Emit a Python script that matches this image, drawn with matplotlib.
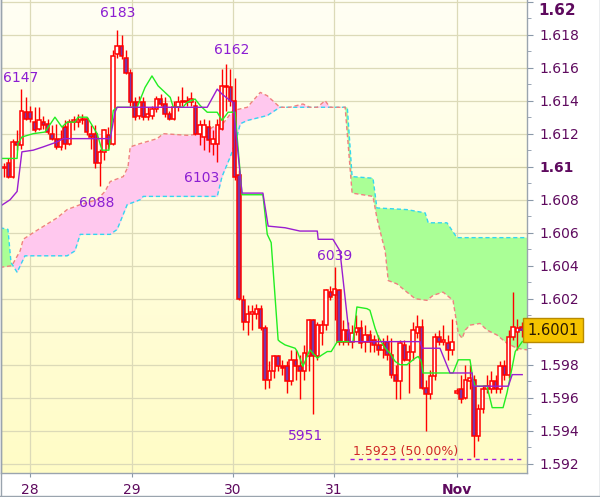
import numpy as np
import matplotlib
matplotlib.use('Agg')
import matplotlib.pyplot as plt
import matplotlib.transforms as mtransforms
from matplotlib.colors import LinearSegmentedColormap
from matplotlib.lines import Line2D

# ---------------- data (hourly candles, GBP-like quotes) ----------------
opens = [1.6099, 1.6102, 1.6094, 1.6115, 1.6113, 1.6133, 1.6133, 1.6127, 1.6123, 1.6127,
         1.6126, 1.6120, 1.6117, 1.6112, 1.6124, 1.6114, 1.6127, 1.6127, 1.6128, 1.6129,
         1.6120, 1.6120, 1.6102, 1.6109, 1.6119, 1.6114, 1.6168, 1.6173, 1.6166, 1.6157,
         1.6139, 1.6131, 1.6139, 1.6130, 1.6131, 1.6135, 1.6141, 1.6138, 1.6132, 1.6129,
         1.6136, 1.6139, 1.6139, 1.6139, 1.6137, 1.6120, 1.6118, 1.6124, 1.6114, 1.6114,
         1.6123, 1.6148, 1.6148, 1.6140, 1.6095, 1.6019, 1.6006, 1.6011, 1.6011, 1.6014,
         1.6002, 1.5971, 1.5976, 1.5985, 1.5979, 1.5979, 1.5970, 1.5983, 1.5979, 1.5976,
         1.5985, 1.6007, 1.5985, 1.5999, 1.6004, 1.6024, 1.6022, 1.6025, 1.5994, 1.6001,
         1.5994, 1.6000, 1.6002, 1.5994, 1.5998, 1.5995, 1.5992, 1.5989, 1.5994, 1.5986,
         1.5974, 1.5970, 1.5992, 1.5983, 1.5988, 1.5999, 1.6003, 1.5966, 1.5962, 1.5973,
         1.5997, 1.5994, 1.5993, 1.5989, 1.5963, 1.5965, 1.5960, 1.5970, 1.5971, 1.5937,
         1.5953, 1.5965, 1.5965, 1.5970, 1.5965, 1.5979, 1.5974, 1.5997, 1.6000, 1.6003]
highs = [1.6102, 1.6105, 1.6117, 1.6122, 1.6147, 1.6142, 1.6137, 1.6136, 1.6136, 1.6131,
         1.6129, 1.6125, 1.6126, 1.6122, 1.6128, 1.6129, 1.6131, 1.6132, 1.6132, 1.6130,
         1.6125, 1.6125, 1.6111, 1.6123, 1.6124, 1.6171, 1.6183, 1.6180, 1.6171, 1.6159,
         1.6142, 1.6143, 1.6142, 1.6136, 1.6137, 1.6143, 1.6144, 1.6142, 1.6134, 1.6140,
         1.6143, 1.6148, 1.6143, 1.6145, 1.6140, 1.6128, 1.6129, 1.6128, 1.6122, 1.6129,
         1.6159, 1.6162, 1.6159, 1.6154, 1.6098, 1.6022, 1.6016, 1.6016, 1.6017, 1.6016,
         1.6004, 1.5982, 1.5986, 1.5986, 1.5983, 1.5982, 1.5989, 1.5989, 1.5986, 1.5992,
         1.6008, 1.6008, 1.6006, 1.6007, 1.6026, 1.6028, 1.6039, 1.6026, 1.6007, 1.6006,
         1.6004, 1.6010, 1.6007, 1.6004, 1.6001, 1.5998, 1.5998, 1.5996, 1.5998, 1.5996,
         1.5980, 1.5995, 1.5995, 1.5992, 1.6006, 1.6010, 1.6008, 1.5971, 1.5977, 1.5999,
         1.6001, 1.6004, 1.5998, 1.6008, 1.5966, 1.5974, 1.5980, 1.5980, 1.5974, 1.5956,
         1.5968, 1.5974, 1.5976, 1.5974, 1.5982, 1.5983, 1.6001, 1.6024, 1.6008, 1.6006]
lows = [1.6094, 1.6093, 1.6093, 1.6110, 1.6111, 1.6128, 1.6127, 1.6121, 1.6122, 1.6123,
        1.6120, 1.6116, 1.6111, 1.6110, 1.6111, 1.6113, 1.6122, 1.6124, 1.6126, 1.6119,
        1.6111, 1.6099, 1.6088, 1.6104, 1.6111, 1.6113, 1.6166, 1.6165, 1.6156, 1.6137,
        1.6128, 1.6129, 1.6128, 1.6128, 1.6129, 1.6133, 1.6137, 1.6130, 1.6128, 1.6128,
        1.6134, 1.6137, 1.6137, 1.6137, 1.6119, 1.6113, 1.6110, 1.6109, 1.6107, 1.6103,
        1.6122, 1.6134, 1.6137, 1.6092, 1.6019, 1.6001, 1.5998, 1.6001, 1.6008, 1.6001,
        1.5965, 1.5966, 1.5972, 1.5976, 1.5974, 1.5963, 1.5968, 1.5971, 1.5959, 1.5971,
        1.5976, 1.5950, 1.5983, 1.5992, 1.6001, 1.6019, 1.6007, 1.5992, 1.5992, 1.5992,
        1.5990, 1.5998, 1.5990, 1.5988, 1.5988, 1.5988, 1.5986, 1.5984, 1.5983, 1.5972,
        1.5959, 1.5959, 1.5982, 1.5963, 1.5983, 1.5996, 1.5965, 1.5940, 1.5959, 1.5971,
        1.5992, 1.5992, 1.5983, 1.5986, 1.5962, 1.5957, 1.5959, 1.5965, 1.5924, 1.5934,
        1.5951, 1.5963, 1.5963, 1.5963, 1.5963, 1.5971, 1.5972, 1.5995, 1.5989, 1.5997]
closes = [1.6100, 1.6094, 1.6115, 1.6113, 1.6134, 1.6129, 1.6129, 1.6122, 1.6128, 1.6125,
          1.6121, 1.6117, 1.6112, 1.6117, 1.6114, 1.6127, 1.6128, 1.6128, 1.6129, 1.6121,
          1.6118, 1.6102, 1.6109, 1.6122, 1.6114, 1.6167, 1.6173, 1.6167, 1.6157, 1.6139,
          1.6130, 1.6139, 1.6130, 1.6132, 1.6135, 1.6141, 1.6138, 1.6132, 1.6129, 1.6136,
          1.6139, 1.6140, 1.6140, 1.6141, 1.6120, 1.6125, 1.6125, 1.6116, 1.6117, 1.6125,
          1.6149, 1.6149, 1.6140, 1.6094, 1.6020, 1.6006, 1.6011, 1.6012, 1.6014, 1.6002,
          1.5971, 1.5976, 1.5985, 1.5979, 1.5978, 1.5970, 1.5983, 1.5979, 1.5976, 1.5987,
          1.6007, 1.5985, 1.6004, 1.6004, 1.6025, 1.6021, 1.6026, 1.5994, 1.6001, 1.5994,
          1.5999, 1.6002, 1.5993, 1.5998, 1.5994, 1.5992, 1.5989, 1.5992, 1.5986, 1.5974,
          1.5970, 1.5993, 1.5983, 1.5988, 1.6001, 1.6003, 1.5966, 1.5962, 1.5973, 1.5997,
          1.5994, 1.5995, 1.5989, 1.5994, 1.5964, 1.5959, 1.5971, 1.5972, 1.5937, 1.5953,
          1.5965, 1.5967, 1.5970, 1.5965, 1.5979, 1.5974, 1.5997, 1.6003, 1.6002, 1.6001]

# Ichimoku lines (x in bar units)
tenkan_x = [-0.9, 3.0, 3.2, 4.1, 6.7, 9.4, 11.7, 13.3, 14.5, 16.3, 17.0, 19.1, 21.4, 22.5, 24.1,
            25.1, 26.0, 30.6, 32.4, 34.0, 35.4, 38.2, 38.9, 41.1, 42.1, 43.9, 45.1, 46.7, 49.0,
            50.1, 51.5, 53.1, 54.7, 59.5, 60.5, 61.4, 63.0, 63.4, 64.6, 66.9, 67.4, 68.7, 70.3,
            72.0, 73.1, 74.3, 75.2, 76.6, 80.2, 81.1, 83.4, 84.1, 85.3, 86.0, 87.6, 88.7, 89.9,
            91.0, 92.6, 94.5, 95.2, 95.9, 96.3, 103.2, 104.4, 107.1, 107.8, 108.3, 111.0, 112.2,
            114.7, 115.6, 116.3, 117.5, 119.1]
tenkan_y = [1.6105, 1.6105, 1.6114, 1.6118, 1.6120, 1.6121, 1.6130, 1.6124, 1.6127, 1.6127,
            1.6130, 1.6130, 1.6120, 1.6110, 1.6110, 1.6134, 1.6136, 1.6136, 1.6148, 1.6155,
            1.6149, 1.6142, 1.6136, 1.6136, 1.6139, 1.6141, 1.6137, 1.6133, 1.6133, 1.6128,
            1.6133, 1.6133, 1.6083, 1.6083, 1.6059, 1.6054, 1.5995, 1.5994, 1.5992, 1.5990,
            1.5988, 1.5979, 1.5989, 1.5984, 1.5986, 1.5988, 1.5988, 1.5994, 1.5994, 1.6015,
            1.6014, 1.6013, 1.6002, 1.5997, 1.5990, 1.5987, 1.5982, 1.5980, 1.5980, 1.5984,
            1.5985, 1.5982, 1.5975, 1.5975, 1.5983, 1.5983, 1.5971, 1.5967, 1.5967, 1.5954,
            1.5954, 1.5963, 1.5972, 1.5988, 1.5994]
kijun_x = [-0.9, 1.4, 3.0, 4.1, 6.7, 9.0, 12.2, 13.6, 24.4, 25.5, 26.0, 46.7, 49.0, 50.1, 52.0,
           52.6, 54.7, 59.5, 60.7, 64.6, 68.0, 72.0, 72.2, 75.6, 77.2, 79.5, 95.6, 96.1, 100.2,
           102.5, 107.6, 107.8, 115.9, 116.8, 119.1]
kijun_y = [1.6076, 1.6080, 1.6085, 1.6109, 1.6110, 1.6112, 1.6115, 1.6117, 1.6117, 1.6133,
           1.6136, 1.6136, 1.6147, 1.6144, 1.6140, 1.6139, 1.6084, 1.6084, 1.6064, 1.6063,
           1.6061, 1.6061, 1.6056, 1.6056, 1.6049, 1.5994, 1.5994, 1.5990, 1.5990, 1.5975,
           1.5975, 1.5967, 1.5967, 1.5974, 1.5974]
spanA_x = [-0.9, 1.8, 3.7, 4.4, 6.7, 12.2, 14.5, 17.5, 21.4, 23.2, 24.4, 27.4, 28.5, 29.0, 31.3,
           35.2, 36.6, 42.1, 45.7, 48.0, 50.3, 52.6, 55.9, 58.9, 60.5, 63.4, 65.7, 68.7, 70.3,
           72.0, 73.8, 74.9, 78.4, 80.0, 84.8, 85.7, 86.9, 87.6, 88.3, 90.3, 92.6, 94.5, 97.2,
           98.6, 100.9, 103.2, 104.4, 105.3, 106.0, 107.1, 109.4, 111.0, 113.3, 115.6, 117.9, 120.2]
spanA_y = [1.6039, 1.6040, 1.6049, 1.6056, 1.6060, 1.6069, 1.6074, 1.6077, 1.6080, 1.6085,
           1.6091, 1.6094, 1.6100, 1.6112, 1.6114, 1.6117, 1.6120, 1.6119, 1.6120, 1.6124,
           1.6126, 1.6134, 1.6136, 1.6145, 1.6143, 1.6136, 1.6136, 1.6138, 1.6136, 1.6136,
           1.6140, 1.6136, 1.6136, 1.6084, 1.6082, 1.6069, 1.6056, 1.6049, 1.6031, 1.6029,
           1.6024, 1.6020, 1.6019, 1.6022, 1.6024, 1.6019, 1.5999, 1.5996, 1.6001, 1.6004,
           1.6005, 1.6001, 1.5998, 1.5993, 1.5990, 1.5989]
spanB_x = [-0.9, 0.9, 1.6, 3.0, 4.8, 14.5, 16.3, 17.5, 24.4, 26.0, 28.3, 31.3, 32.0, 49.0, 50.1,
           52.0, 53.1, 54.3, 55.9, 60.5, 63.4, 78.9, 80.0, 84.8, 85.7, 92.6, 96.8, 97.5, 101.8,
           104.1, 120.2]
spanB_y = [1.6063, 1.6062, 1.6042, 1.6036, 1.6046, 1.6046, 1.6049, 1.6059, 1.6059, 1.6062,
           1.6077, 1.6080, 1.6082, 1.6082, 1.6094, 1.6106, 1.6114, 1.6126, 1.6128, 1.6131,
           1.6136, 1.6136, 1.6094, 1.6093, 1.6075, 1.6074, 1.6072, 1.6066, 1.6066, 1.6057, 1.6057]

day_ticks = [5.98, 29.35, 52.64, 75.86, 104.1]
day_labels = ['28', '29', '30', '31', 'Nov']
price_ticks = [1.592, 1.594, 1.596, 1.598, 1.600, 1.602, 1.604, 1.606, 1.608, 1.610,
               1.612, 1.614, 1.616, 1.618, 1.620]
price_minor = [1.593, 1.595, 1.597, 1.599, 1.601, 1.603, 1.605, 1.607, 1.609, 1.611,
               1.613, 1.615, 1.617, 1.619]
swing_labels = ['6147', '6183', '6162', '6103', '6088', '6039', '5951']
swing_x = [-0.3, 26.2, 52.4, 45.5, 21.4, 75.9, 69.2]
swing_y = [1.6154, 1.6193, 1.6171, 1.6093, 1.6078, 1.6046, 1.5937]
fib_level = 1.5923
fib_text = '1.5923 (50.00%)'
last_price = 1.6001

# ---------------- figure ----------------
fig = plt.figure(figsize=(6.0, 4.97), dpi=100)
fig.patch.set_facecolor('white')
ax = fig.add_axes([1 / 600, 24 / 497, 526 / 600, 473 / 497])
XMIN, XMAX = -0.7, 120.2
YMIN, YMAX = 1.59144, 1.6201

# background gradient
grad = np.linspace(0, 1, 256).reshape(-1, 1)
bg = LinearSegmentedColormap.from_list('bg', ['#fffcc6', '#fffff4'])
ax.imshow(grad, extent=[0, 1, 0, 1], transform=ax.transAxes, origin='lower',
          cmap=bg, aspect='auto', zorder=0, interpolation='bilinear')

# grid
for p in price_ticks:
    gc = '#cfcca6' if abs(p - 1.61) < 1e-9 else '#dcdab8'
    ax.axhline(p, color=gc, lw=0.9, zorder=0.5)
for d in day_ticks:
    ax.axvline(d, color='#dcdab8', lw=0.9, zorder=0.5)

# cloud
xs = np.linspace(XMIN - 0.3, XMAX, 3000)
a = np.interp(xs, spanA_x, spanA_y)
b = np.interp(xs, spanB_x, spanB_y)
ax.fill_between(xs, a, b, where=a >= b, interpolate=True, color='#ffc8ee', lw=0, zorder=1)
ax.fill_between(xs, a, b, where=a < b, interpolate=True, color='#aaff96', lw=0, zorder=1)
ax.plot(spanB_x, spanB_y, color='#33d6f0', lw=1.0, ls=(0, (3, 2)), zorder=2)
ax.plot(spanA_x, spanA_y, color='#f08080', lw=1.0, ls=(0, (3, 2)), zorder=2.1)

# candles
idx = np.arange(len(opens))
o = np.array(opens); c = np.array(closes); h = np.array(highs); l = np.array(lows)
ax.vlines(idx, l, h, color='#ff0000', lw=1.0, zorder=3)
up = c >= o
bottoms = np.minimum(o, c)
heights = np.maximum(np.abs(c - o), 0.00003)
ax.bar(idx[up], heights[up], bottom=bottoms[up], width=0.78, color='white',
       edgecolor='#ff0000', linewidth=1.1, zorder=3.2)
ax.bar(idx[~up], heights[~up], bottom=bottoms[~up], width=0.78, color='#7a35a6',
       edgecolor='#ff0000', linewidth=1.1, zorder=3.2)

# tenkan / kijun
ax.plot(tenkan_x, tenkan_y, color='#22ee22', lw=1.0, zorder=4)
ax.plot(kijun_x, kijun_y, color='#9a1ed0', lw=1.0, zorder=4.1)

# swing annotations
for t, x, y in zip(swing_labels, swing_x, swing_y):
    ha = 'left' if x < 0 else 'center'
    ax.text(x, y, t, color='#8c1ed2', fontsize=10, ha=ha, va='center', zorder=6)

# fib line
ax.plot([79.5, 119.3], [fib_level, fib_level], color='#a020e0', lw=1.0, ls=(0, (3, 3)), zorder=5)
ax.text(80.2, fib_level + 0.00045, fib_text, color='#d02828', fontsize=9, ha='left',
        va='center', zorder=6)

ax.set_xlim(XMIN, XMAX)
ax.set_ylim(YMIN, YMAX)

# axes styling
ax.yaxis.tick_right()
ax.set_yticks(price_ticks)
ax.set_yticks(price_minor, minor=True)
lbls = []
for p in price_ticks:
    if abs(p - 1.62) < 1e-9 or abs(p - 1.60) < 1e-9:
        lbls.append('')
    elif abs(p - 1.61) < 1e-9:
        lbls.append('1.61')
    else:
        lbls.append('%.3f' % p)
ax.set_yticklabels(lbls)
for t in ax.get_yticklabels():
    if t.get_text() == '1.61':
        t.set_fontweight('bold'); t.set_fontsize(11)
ax.tick_params(axis='y', which='both', direction='out', colors='#8a98a8',
               labelcolor='#5e0a5e', labelsize=10, pad=5)
ax.tick_params(axis='y', which='major', length=4)
ax.tick_params(axis='y', which='minor', length=3)
ax.annotate('1.62', xy=(1.0, 1.62), xycoords=('axes fraction', 'data'), xytext=(8, -1),
            textcoords='offset points', ha='left', va='top', fontsize=11,
            fontweight='bold', color='#5e0a5e', annotation_clip=False)

ax.set_xticks(day_ticks)
ax.set_xticklabels(day_labels)
for t in ax.get_xticklabels():
    if t.get_text() == 'Nov':
        t.set_fontweight('bold'); t.set_fontsize(11)
ax.tick_params(axis='x', direction='out', length=3, colors='#8a98a8',
               labelcolor='#5e0a5e', labelsize=10, pad=4)

for s in ['left', 'bottom', 'right']:
    ax.spines[s].set_color('#9aa4ae'); ax.spines[s].set_linewidth(1.0)
ax.spines['top'].set_visible(False)

# last price marker and box
trans = mtransforms.blended_transform_factory(ax.transAxes, ax.transData)
ax.plot([0.985, 1.01], [last_price, last_price], color='#8a1ea8', lw=1.2,
        transform=trans, clip_on=False, zorder=6)
ax.text(1.0495, last_price, '%.4f' % last_price, transform=trans, ha='center', va='center',
        fontsize=10.5, color='#2a1a00', zorder=7,
        bbox=dict(boxstyle='square,pad=0.3', facecolor='#f6c400', edgecolor='#b88a00', lw=1.0))

# outer frame
fig.add_artist(Line2D([0.5 / 600, 0.5 / 600], [0, 1], color='#9aa4ae', lw=1.0))
fig.add_artist(Line2D([599.5 / 600, 599.5 / 600], [0, 1], color='#9aa4ae', lw=1.0))
fig.add_artist(Line2D([0, 1], [1.5 / 497, 1.5 / 497], color='#9aa4ae', lw=1.0))

fig.savefig('out.png', dpi=100)
